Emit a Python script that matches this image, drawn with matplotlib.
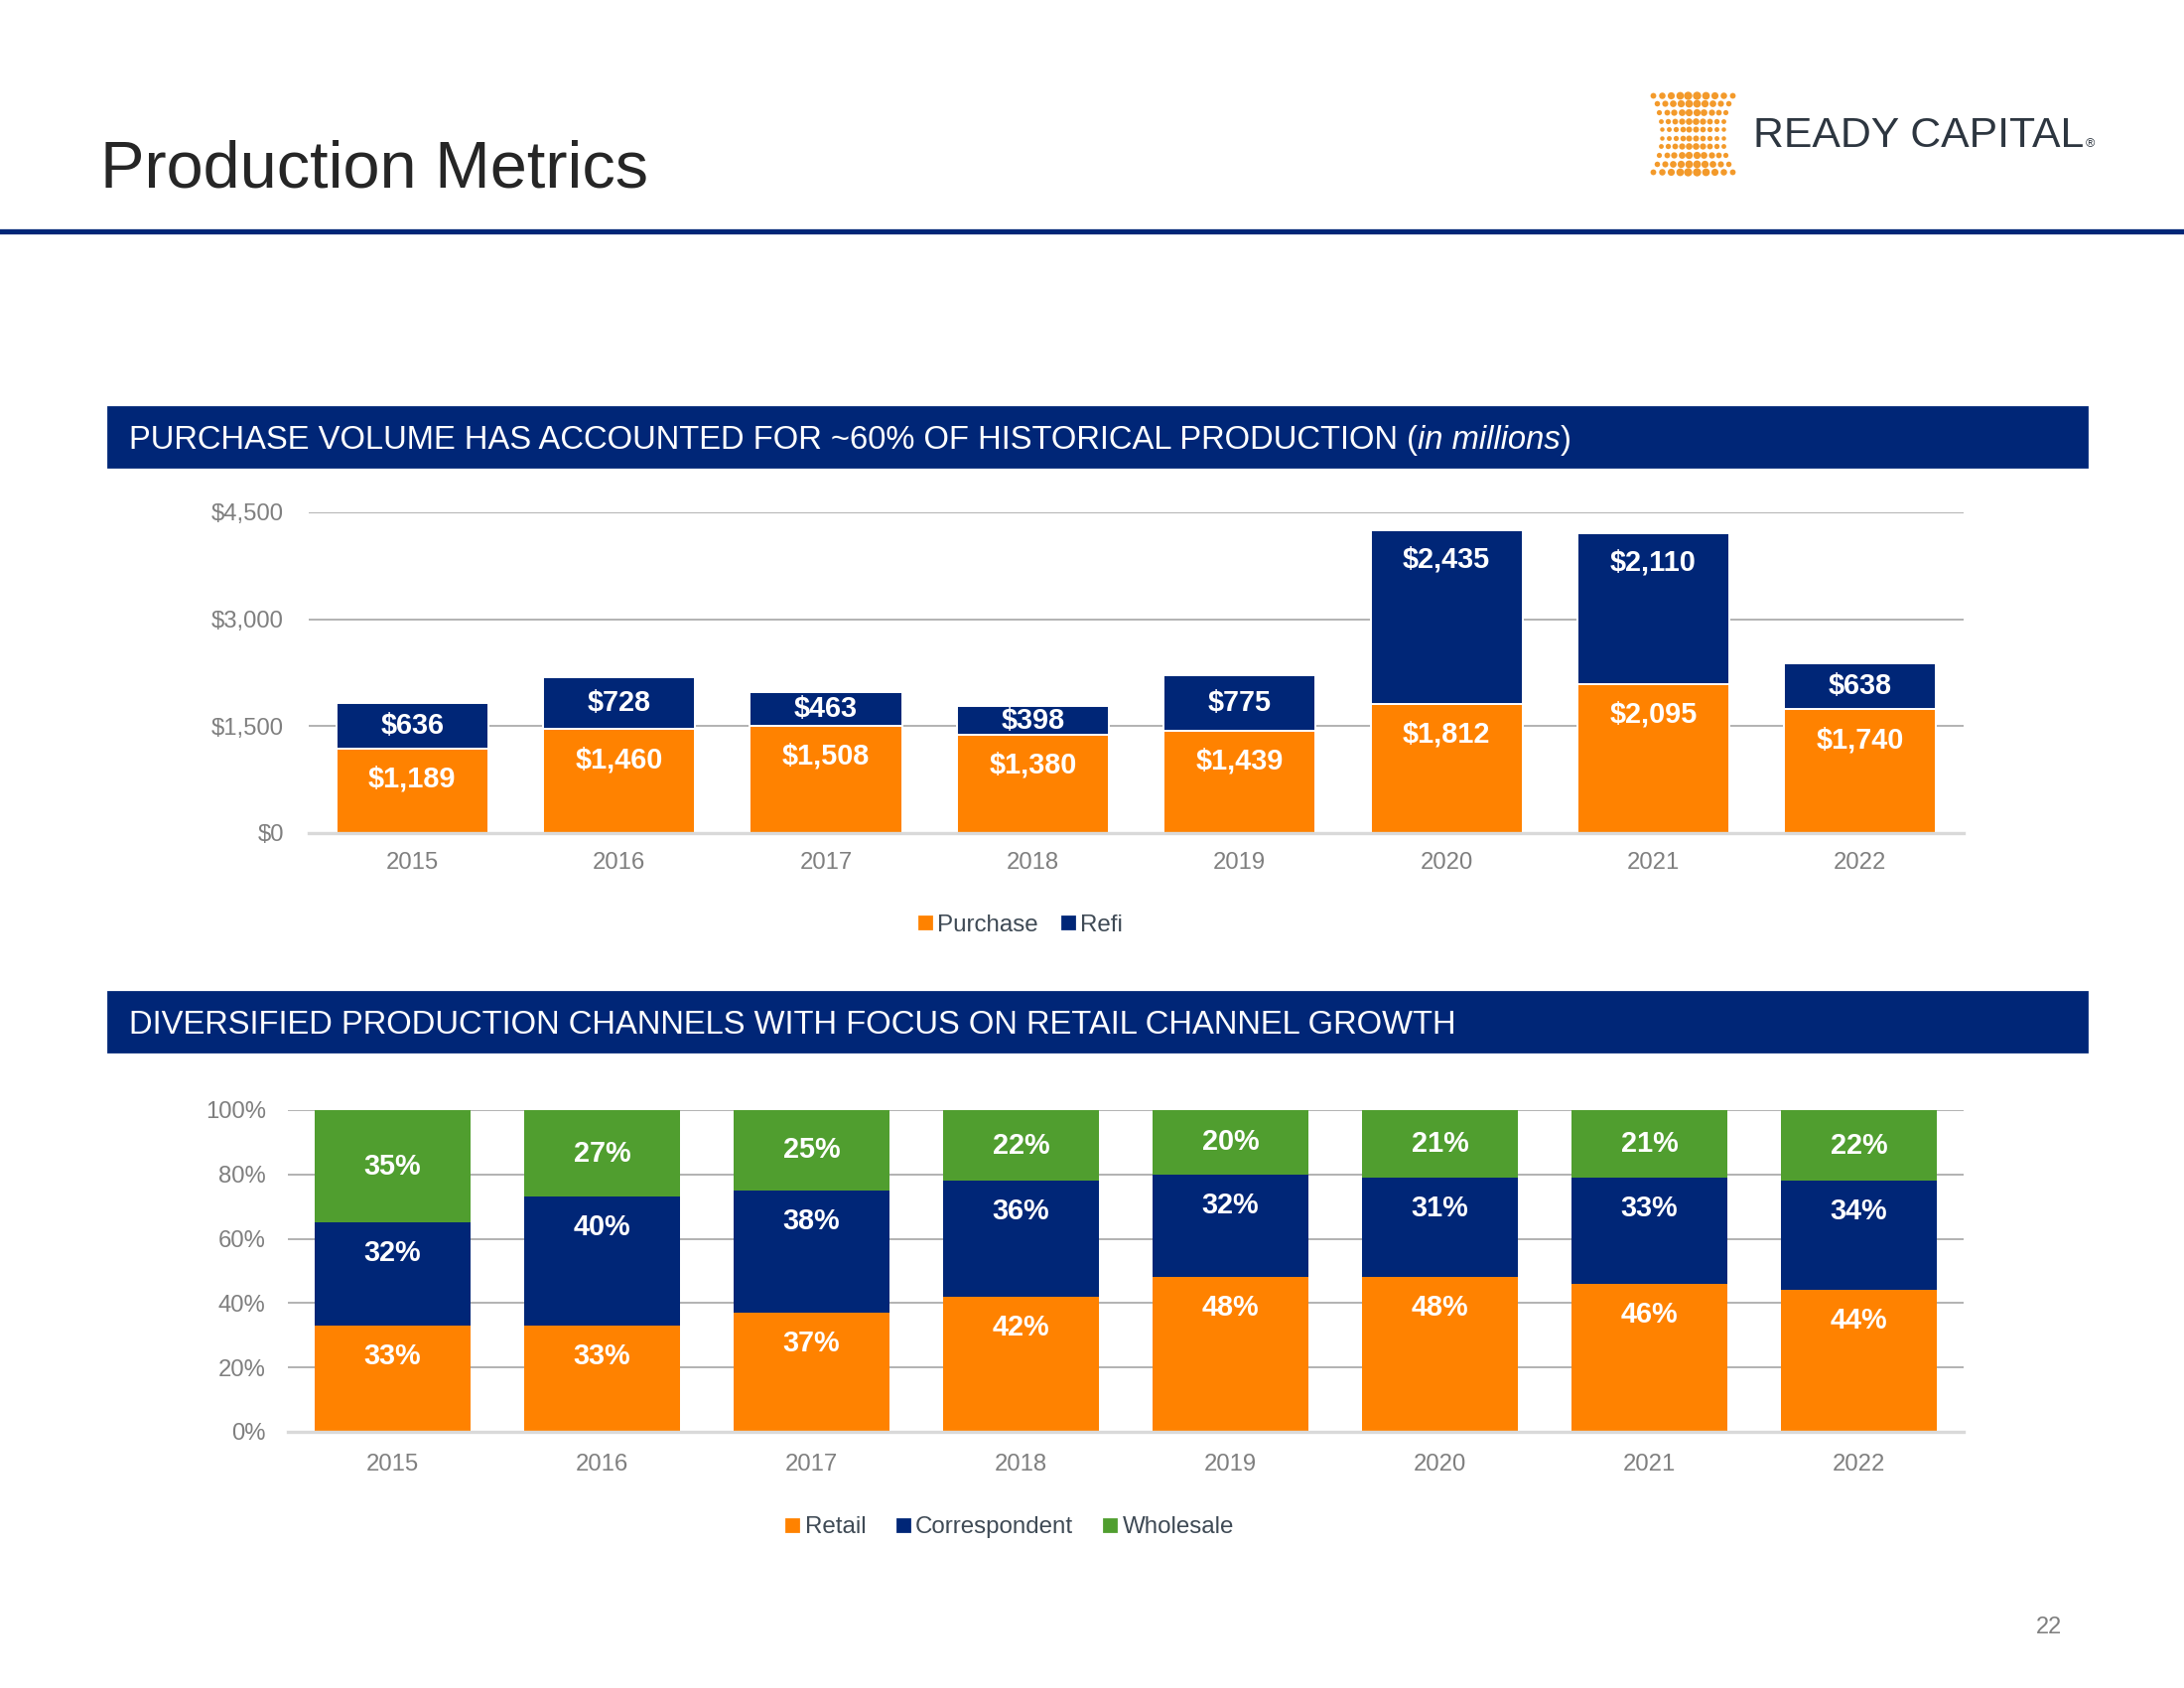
import matplotlib
matplotlib.use("Agg")
import matplotlib.pyplot as plt
from matplotlib.patches import Rectangle
from matplotlib.lines import Line2D
import numpy as np

plt.rcParams['font.family'] = ['Liberation Sans', 'DejaVu Sans']

# ---- data (in millions) ----
years = ["2015", "2016", "2017", "2018", "2019", "2020", "2021", "2022"]
purchase = [1189, 1460, 1508, 1380, 1439, 1812, 2095, 1740]
refi = [636, 728, 463, 398, 775, 2435, 2110, 638]
volume_ticks = [0, 1500, 3000, 4500]

# ---- channel mix (%) ----
retail = [33, 33, 37, 42, 48, 48, 46, 44]
correspondent = [32, 40, 38, 36, 32, 31, 33, 34]
wholesale = [35, 27, 25, 22, 20, 21, 21, 22]
share_ticks = [0, 20, 40, 60, 80, 100]

ORANGE = '#FF8200'
NAVY = '#002677'
GREEN = '#509E2F'
GRID = '#A6A6A6'
TICK = '#7F7F7F'
LEGEND_TXT = '#3F4A55'

fig = plt.figure(figsize=(11, 8.5), dpi=200)
renderer = fig.canvas.get_renderer()

# header
fig.text(0.046, 0.899, "Production Metrics", fontsize=24, color='#262626',
         va='center', ha='left')
fig.add_artist(Line2D([0, 1], [0.863, 0.863], color=NAVY, lw=1.9,
                      transform=fig.transFigure))

# logo (decorative dots + wordmark)
lax = fig.add_axes([0.7545, 0.8953, 0.0409, 0.0512])
lax.set_xlim(-1.12, 1.12)
lax.set_ylim(-1.12, 1.12)
lax.axis('off')
for r in np.linspace(-1, 1, 10):
    for c in np.linspace(-1, 1, 10):
        xx = c * (0.76 + 0.24 * r ** 2)
        s = 8.5 * (1 - 0.6 * abs(c)) * (0.4 + 0.6 * abs(r)) + 1.0
        lax.scatter(xx, r, s=s, color='#F39A2B', lw=0)
fig.text(0.8025, 0.9195, "READY CAPITAL", fontsize=15.4, color='#2D3640',
         va='center', ha='left')
fig.text(0.9548, 0.9145, "®", fontsize=4.5, color='#2D3640', va='center', ha='left')


def banner(y0, parts):
    fig.add_artist(Rectangle((0.0495, y0), 0.906, 0.0353, color=NAVY,
                             transform=fig.transFigure))
    xpos = 0.059
    for txt, style in parts:
        t = fig.text(xpos, y0 + 0.0176, txt, fontsize=11.8, color='white',
                     va='center_baseline', ha='left', style=style)
        bb = t.get_window_extent(renderer)
        xpos = fig.transFigure.inverted().transform((bb.x1, 0))[0]


def style_axes(ax, ticks, fmt, pad_y, pad_x):
    ax.set_axisbelow(True)
    ax.yaxis.grid(True, color=GRID, lw=0.6)
    for s in ['left', 'right', 'top']:
        ax.spines[s].set_visible(False)
    ax.spines['bottom'].set_color('#D9D9D9')
    ax.spines['bottom'].set_linewidth(1.2)
    ax.set_yticks(ticks)
    ax.set_yticklabels([fmt(v) for v in ticks])
    ax.tick_params(axis='y', length=0, pad=pad_y, labelsize=8.6, labelcolor=TICK)
    ax.tick_params(axis='x', length=0, pad=pad_x, labelsize=8.6, labelcolor=TICK)
    ax.set_xlim(-0.5, len(years) - 0.5)


def labels_inside_end(ax, xs, bottoms, heights, fmt, off=30):
    # label sits near the top of its segment, or at its middle if it is short
    for x, b, h in zip(xs, bottoms, heights):
        y0 = ax.transData.transform((0, b))[1]
        y1 = ax.transData.transform((0, b + h))[1]
        d = min(off, (y1 - y0) / 2)
        ax.annotate(fmt(h), xy=(x, b + h), xytext=(0, -d),
                    textcoords='offset pixels', ha='center', va='center',
                    color='white', fontsize=10.4, fontweight='bold')


def labels_center(ax, xs, bottoms, heights, fmt):
    for x, b, h in zip(xs, bottoms, heights):
        ax.text(x, b + h / 2, fmt(h), ha='center', va='center',
                color='white', fontsize=10.4, fontweight='bold')


# ---------------- chart 1 ----------------
banner(0.7235, [("PURCHASE VOLUME HAS ACCOUNTED FOR ~60% OF HISTORICAL PRODUCTION (", 'normal'),
                ("in millions", 'italic'), (")", 'normal')])

ax1 = fig.add_axes([0.1414, 0.5065, 0.7577, 0.19])
x = np.arange(len(years))
ax1.bar(x, purchase, width=0.735, color=ORANGE, edgecolor='white', lw=0.7)
ax1.bar(x, refi, width=0.735, bottom=purchase, color=NAVY, edgecolor='white', lw=0.7)
ax1.set_ylim(0, 4500)
ax1.set_xticks(x)
ax1.set_xticklabels(years)
style_axes(ax1, volume_ticks, lambda v: f"${v:,.0f}", 9, 7)
money = lambda v: f"${v:,.0f}"
labels_inside_end(ax1, x, [0] * len(x), purchase, money, off=31)
labels_inside_end(ax1, x, purchase, refi, money, off=29)

fig.legend(handles=[Line2D([], [], marker='s', ls='', color=ORANGE, markersize=4.2, label='Purchase'),
                    Line2D([], [], marker='s', ls='', color=NAVY, markersize=4.2, label='Refi')],
           loc='center', bbox_to_anchor=(0.467, 0.4518), ncol=2, frameon=False,
           handletextpad=0.15, columnspacing=0.9, handlelength=0.7,
           fontsize=8.7, labelcolor=LEGEND_TXT)

# ---------------- chart 2 ----------------
banner(0.377, [("DIVERSIFIED PRODUCTION CHANNELS WITH FOCUS ON RETAIL CHANNEL GROWTH", 'normal')])

ax2 = fig.add_axes([0.1318, 0.1518, 0.7673, 0.1906])
bottom_w = [r + c for r, c in zip(retail, correspondent)]
ax2.bar(x, retail, width=0.74, color=ORANGE)
ax2.bar(x, correspondent, width=0.74, bottom=retail, color=NAVY)
ax2.bar(x, wholesale, width=0.74, bottom=bottom_w, color=GREEN)
ax2.set_ylim(0, 100)
ax2.set_xticks(x)
ax2.set_xticklabels(years)
style_axes(ax2, share_ticks, lambda v: f"{v:.0f}%", 8, 8)
pct = lambda v: f"{v:.0f}%"
labels_inside_end(ax2, x, [0] * len(x), retail, pct, off=31)
labels_inside_end(ax2, x, retail, correspondent, pct, off=31)
labels_center(ax2, x, bottom_w, wholesale, pct)

fig.legend(handles=[Line2D([], [], marker='s', ls='', color=ORANGE, markersize=4.2, label='Retail'),
                    Line2D([], [], marker='s', ls='', color=NAVY, markersize=4.2, label='Correspondent'),
                    Line2D([], [], marker='s', ls='', color=GREEN, markersize=4.2, label='Wholesale')],
           loc='center', bbox_to_anchor=(0.462, 0.0953), ncol=3, frameon=False,
           handletextpad=0.15, columnspacing=1.2, handlelength=0.7,
           fontsize=8.7, labelcolor=LEGEND_TXT)

fig.text(0.938, 0.036, "22", fontsize=8.5, color=TICK, ha='center', va='center')

fig.savefig("out.png", dpi=200, facecolor='white')
